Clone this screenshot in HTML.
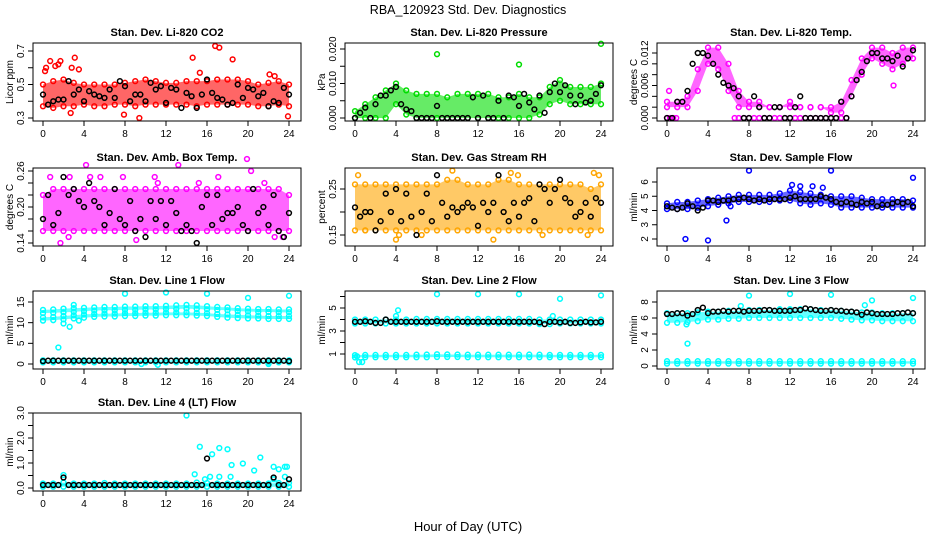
<!DOCTYPE html>
<html><head><meta charset="utf-8"><style>
body{margin:0;background:#fff}
svg{display:block;font-family:"Liberation Sans",Arial,sans-serif}
</style></head><body>
<svg id="chart" width="936" height="540" viewBox="0 0 936 540">
<text x="468" y="14" text-anchor="middle" font-size="12.5">RBA_120923  Std. Dev. Diagnostics</text>
<text x="468" y="531" text-anchor="middle" font-size="13">Hour of Day (UTC)</text>
</svg>
<script>
const hourly=[0,1,2,3,4,5,6,7,8,9,10,11,12,13,14,15,16,17,18,19,20,21,22,23,24];
const halfHours=[0,0.5,1,1.5,2,2.5,3,3.5,4,4.5,5,5.5,6,6.5,7,7.5,8,8.5,9,9.5,10,10.5,11,11.5,12,12.5,13,13.5,14,14.5,15,15.5,16,16.5,17,17.5,18,18.5,19,19.5,20,20.5,21,21.5,22,22.5,23,23.5,24];
const xTickLabels=["0","4","8","12","16","20","24"];

// Panel 1 CO2
const co2Mean=[0.44,0.38,0.40,0.41,0.41,0.52,0.44,0.47,0.40,0.46,0.44,0.43,0.42,0.47,0.42,0.52,0.49,0.40,0.44,0.44,0.40,0.51,0.47,0.49,0.39,0.48,0.47,0.36,0.45,0.43,0.36,0.44,0.53,0.45,0.42,0.41,0.38,0.39,0.50,0.42,0.48,0.47,0.43,0.45,0.37,0.40,0.39,0.48,0.44];
const co2Lo=[0.37,0.36,0.37,0.37,0.38,0.37,0.37,0.38,0.38,0.37,0.38,0.38,0.38,0.38,0.38,0.37,0.38,0.38,0.38,0.38,0.38,0.37,0.37,0.38,0.37];
const co2Hi=[0.50,0.52,0.53,0.51,0.50,0.50,0.50,0.50,0.51,0.52,0.53,0.52,0.51,0.51,0.52,0.52,0.52,0.53,0.53,0.53,0.52,0.50,0.51,0.52,0.50];
const co2OutX=[0.2,0.3,0.7,1.2,1.5,1.7,2.8,3.1,3.5,14.6,15.3,16.8,17.2,18.5,7.9,9.4,23.9,2.7,22.1,22.6];
const co2OutY=[0.58,0.60,0.64,0.61,0.62,0.64,0.60,0.66,0.59,0.66,0.57,0.73,0.72,0.65,0.32,0.30,0.31,0.33,0.56,0.55];
// Panel 2 pressure
const presMean=[0,0.0015,0.003,0,0.004,0.0065,0.0065,0.008,0.009,0.004,0.0025,0.002,0,0,0,0,0.0035,0,0,0,0,0,0,0.006,0,0.0065,0,0,0.005,0,0.0065,0.006,0.0035,0.007,0.0045,0.0025,0.0065,0.0015,0.0075,0.010,0.0075,0.0095,0.0065,0.004,0.0065,0.0045,0.005,0.007,0.0095];
const presLo=[0,0,0,0,0.004,0.001,0,0,0,0,0,0,0,0,0,0,0,0,0.001,0.004,0.005,0.004,0.004,0.004,0.004];
const presHi=[0.002,0.004,0.006,0.008,0.010,0.008,0.007,0.007,0.007,0.006,0.007,0.007,0.007,0.007,0.006,0.006,0.007,0.006,0.006,0.009,0.011,0.009,0.009,0.009,0.010];
const presOutX=[8,16,24];
const presOutY=[0.0185,0.0155,0.0215];
// Panel 3 Li-820 temp
const tempMean=[0,0,0.003,0.003,0.005,0.010,0.012,0.012,0.0115,0.010,0.008,0.0065,0.006,0.0055,0.004,0,0,0.004,0.002,0,0,0.002,0.002,0,0,0.002,0.004,0,0,0,0,0,0,0,0.003,0,0.004,0.007,0.0085,0.0105,0.012,0.012,0.011,0.011,0.0105,0.0115,0.0095,0.011,0.0125];
const tempLo=[0.002,0.002,0.002,0.005,0.010,0.009,0.005,0.002,0.002,0.002,0.002,0.002,0.002,0.002,0.002,0.002,0.001,0.001,0.004,0.008,0.011,0.010,0.009,0.010,0.011];
const tempHi=[0.003,0.003,0.004,0.009,0.013,0.013,0.010,0.005,0.003,0.003,0.002,0.002,0.003,0.002,0.002,0.002,0.002,0.003,0.007,0.011,0.013,0.013,0.012,0.013,0.013];
const tempOutX=[0,0.3,0.6,0.9,6.6,7,7.5,8,8.5,9,9.5,10,10.5,11,11.5,12,12.5,13,13.5,14,14.5,15,15.5,16,16.5,17,17.5,0.2,22.1];
const tempOutY=[0,0,0,0,0,0,0,0,0,0,0,0,0,0,0,0,0,0,0,0,0,0,0,0,0,0,0,0.005,0.006];
// Panel 4 amb box temp
const ambMean=[0.18,0.22,0.17,0.19,0.25,0.22,0.23,0.21,0.20,0.24,0.21,0.20,0.17,0.19,0.23,0.18,0.17,0.21,0.16,0.18,0.15,0.21,0.18,0.21,0.17,0.21,0.19,0.16,0.17,0.16,0.14,0.20,0.22,0.17,0.22,0.18,0.19,0.19,0.20,0.17,0.16,0.23,0.19,0.20,0.17,0.22,0.16,0.15,0.19];
const ambLo=[0.16,0.16,0.16,0.16,0.16,0.16,0.16,0.16,0.16,0.16,0.16,0.16,0.16,0.16,0.16,0.16,0.16,0.16,0.16,0.16,0.16,0.16,0.16,0.16,0.16];
const ambHi=[0.22,0.23,0.23,0.23,0.23,0.23,0.23,0.23,0.23,0.23,0.23,0.23,0.23,0.23,0.23,0.23,0.23,0.23,0.23,0.23,0.23,0.23,0.23,0.23,0.22];
const ambOutX=[0.7,1.7,2.6,4.2,4.6,7.8,9.1,11.2,13.2,15.2,17.1,19.9,20.3,21.6,22.6,23.4,2.5,5.6,10.9];
const ambOutY=[0.25,0.14,0.25,0.27,0.25,0.25,0.145,0.24,0.27,0.24,0.25,0.28,0.26,0.24,0.15,0.15,0.15,0.25,0.25];
// Panel 5 gas stream RH
const rhMean=[0.21,0.19,0.20,0.20,0.16,0.18,0.24,0.20,0.25,0.18,0.24,0.19,0.15,0.20,0.24,0.18,0.28,0.22,0.19,0.21,0.20,0.21,0.22,0.21,0.17,0.22,0.20,0.22,0.28,0.20,0.18,0.22,0.19,0.22,0.23,0.18,0.26,0.25,0.22,0.25,0.27,0.23,0.22,0.19,0.20,0.22,0.19,0.23,0.22];
const rhLo=[0.16,0.16,0.16,0.16,0.16,0.16,0.16,0.16,0.16,0.16,0.16,0.16,0.16,0.16,0.16,0.16,0.16,0.16,0.16,0.16,0.16,0.16,0.16,0.16,0.16];
const rhHi=[0.26,0.26,0.26,0.26,0.26,0.26,0.26,0.26,0.26,0.27,0.27,0.26,0.26,0.26,0.27,0.27,0.26,0.26,0.26,0.26,0.26,0.26,0.26,0.25,0.26];
const rhOutX=[0.3,1,4,4.3,6.5,9.5,13.5,15.2,15.9,18.3,23.3,23.8,22.7];
const rhOutY=[0.28,0.16,0.14,0.15,0.15,0.29,0.14,0.285,0.28,0.15,0.285,0.28,0.15];
// Panel 6 sample flow
const flowMean=[4.3,4.2,4.1,4.2,4.5,4.3,4.0,4.2,4.7,4.7,4.6,4.7,4.7,4.8,4.8,4.9,4.8,4.7,4.8,4.7,4.8,4.8,4.8,4.8,4.9,5.0,4.8,4.8,4.8,4.8,5.0,4.9,4.8,4.6,4.5,4.6,4.5,4.4,4.6,4.5,4.6,4.3,4.4,4.4,4.5,4.6,4.5,4.6,4.3];
const flowLo=[4.1,4.1,4.1,4.2,4.3,4.4,4.5,4.6,4.6,4.6,4.6,4.7,4.7,4.5,4.4,4.5,4.4,4.2,4.2,4.2,4.2,4.2,4.2,4.2,4.2];
const flowHi=[4.5,4.6,4.6,4.7,4.8,4.9,5.0,5.1,5.1,5.1,5.1,5.2,5.4,5.3,5.2,5.1,5.0,5.0,5.0,4.9,4.8,4.8,4.8,4.8,4.7];
const flowOutX=[1.8,4,5.8,6.2,8,16,24,12.2,13,14.2,15.2];
const flowOutY=[2.0,1.9,3.3,4.3,6.8,6.8,6.3,5.8,5.7,5.7,5.6];
// Panel 7 line 1
const l1Mean=[0.7,0.8,0.8,0.8,0.8,0.8,0.8,0.8,0.8,0.8,0.8,0.8,0.8,0.8,0.8,0.8,0.8,0.8,0.8,0.8,0.8,0.8,0.8,0.8,0.8,0.8,0.8,0.8,0.8,0.8,0.8,0.8,0.8,0.8,0.8,0.8,0.8,0.8,0.8,0.8,0.8,0.8,0.8,0.8,0.8,0.8,0.8,0.8,0.7];
const l1UpLo=[12.3,12.4,12.5,12.6,12.8,12.9,13.0,13.0,13.1,13.1,13.2,13.2,13.3,13.3,13.4,13.3,13.2,13.1,13.0,12.8,12.7,12.6,12.6,12.5,12.5];
const l1UpHi=[13.1,13.2,13.4,13.5,13.6,13.7,13.8,13.8,13.9,13.9,14.0,14.0,14.1,14.2,14.3,14.2,14.0,13.8,13.7,13.5,13.4,13.3,13.3,13.2,13.2];
const l1MidLo=[10.5,10.6,10.8,11.0,11.2,11.4,11.5,11.5,11.6,11.6,11.7,11.7,11.8,11.8,11.8,11.7,11.6,11.4,11.2,11.1,11.0,11.0,10.9,10.9,10.9];
const l1MidHi=[11.3,11.4,11.6,11.8,12.0,12.1,12.2,12.2,12.3,12.3,12.4,12.4,12.5,12.5,12.5,12.4,12.3,12.1,12.0,11.9,11.8,11.7,11.6,11.6,11.6];
const l1LowLo=[0.4,0.4,0.4,0.4,0.4,0.4,0.4,0.4,0.4,0.4,0.4,0.4,0.4,0.4,0.4,0.4,0.4,0.4,0.4,0.4,0.4,0.4,0.4,0.4,0.4];
const l1LowHi=[0.9,0.9,0.9,0.9,0.9,0.9,0.9,0.9,0.9,0.9,0.9,0.9,0.9,0.9,0.9,0.9,0.9,0.9,0.9,0.9,0.9,0.9,0.9,0.9,0.9];
const l1OutX=[8,12,16,20,24,1.5,2,2.6,3,3.5,9.6,11.2,22.0];
const l1OutY=[17,17.3,17,16,16.5,4,9.8,9,14.3,10.5,0,-0.2,0];
// Panel 8 line 2
const l2Mean=[3.8,3.8,3.85,3.8,3.7,3.7,4.0,3.8,3.8,3.8,3.8,3.8,3.8,3.8,3.8,3.8,3.85,3.8,3.8,3.8,3.8,3.8,3.8,3.8,3.8,3.8,3.8,3.8,3.8,3.8,3.8,3.8,3.8,3.8,3.8,3.8,3.75,3.6,3.8,3.8,3.75,3.8,3.7,3.7,3.75,3.8,3.75,3.75,3.8];
const l2UpLo=[3.65,3.65,3.65,3.65,3.65,3.65,3.65,3.65,3.65,3.65,3.65,3.65,3.65,3.65,3.65,3.65,3.65,3.65,3.6,3.6,3.65,3.65,3.65,3.65,3.65];
const l2UpHi=[4.0,4.0,4.0,4.0,4.0,4.0,4.05,4.05,4.05,4.05,4.05,4.05,4.05,4.05,4.05,4.05,4.05,4.05,4.0,4.0,4.0,4.0,4.0,4.0,4.0];
const l2LowLo=[0.7,0.72,0.72,0.72,0.72,0.72,0.72,0.72,0.74,0.74,0.74,0.72,0.72,0.72,0.72,0.72,0.72,0.72,0.72,0.72,0.72,0.72,0.72,0.72,0.72];
const l2LowHi=[0.9,0.92,0.92,0.92,0.92,0.92,0.94,0.95,0.98,0.96,0.95,0.94,0.94,0.94,0.94,0.94,0.94,0.95,0.94,0.92,0.92,0.92,0.92,0.92,0.92];
const l2OutX=[8,12,16,20,24,4,4.2,0.2,0.4,19.3,0.7];
const l2OutY=[6.2,6.2,6.2,5.8,6.1,4.3,4.8,0.8,0.3,4.3,0.3];
// Panel 9 line 3
const l3Mean=[6.5,6.5,6.6,6.6,6.3,6.5,7.0,7.3,6.6,6.8,6.8,6.9,6.8,6.9,6.9,6.8,6.9,6.9,6.9,7.0,7.0,6.9,6.9,6.9,6.9,7.0,7.0,7.2,7.1,7.0,6.9,6.9,7.0,6.9,6.9,6.8,6.8,6.7,6.4,6.7,6.6,6.5,6.5,6.5,6.5,6.6,6.6,6.7,6.6];
const l3UpLo=[5.4,5.4,5.5,5.6,5.8,5.8,5.9,5.9,6.0,6.0,6.0,6.0,6.0,6.0,6.0,6.0,6.0,5.9,5.8,5.7,5.7,5.6,5.6,5.6,5.6];
const l3UpHi=[6.6,6.6,6.6,6.7,6.8,6.8,6.9,6.9,7.0,7.0,7.0,7.1,7.1,7.1,7.1,7.0,7.0,6.9,6.8,6.7,6.7,6.6,6.6,6.6,6.6];
const l3LowLo=[0.3,0.3,0.3,0.3,0.3,0.3,0.3,0.3,0.3,0.3,0.3,0.3,0.3,0.3,0.3,0.3,0.3,0.3,0.3,0.3,0.3,0.3,0.3,0.3,0.3];
const l3LowHi=[0.6,0.6,0.6,0.6,0.6,0.6,0.6,0.6,0.6,0.6,0.6,0.6,0.6,0.6,0.6,0.6,0.6,0.6,0.6,0.6,0.6,0.6,0.6,0.6,0.6];
const l3OutX=[2,8,12,16,20,24,19.3,1.9,7.2];
const l3OutY=[2.8,8.8,9,8.9,8.2,8.5,7.6,5.2,7.5];
// Panel 10 line 4
const l4Mean=[0.12,0.12,0.12,0.12,0.42,0.12,0.12,0.12,0.12,0.12,0.12,0.12,0.12,0.12,0.12,0.12,0.12,0.12,0.12,0.12,0.12,0.12,0.12,0.12,0.12,0.12,0.12,0.12,0.12,0.12,0.12,0.12,1.18,0.12,0.12,0.12,0.12,0.12,0.12,0.12,0.12,0.12,0.12,0.12,0.12,0.42,0.12,0.12,0.35];
const l4Lo=[0.05,0.05,0.05,0.05,0.05,0.05,0.05,0.05,0.05,0.05,0.05,0.05,0.05,0.05,0.05,0.05,0.05,0.05,0.05,0.05,0.05,0.05,0.05,0.05,0.05];
const l4Hi=[0.18,0.18,0.22,0.18,0.18,0.18,0.2,0.18,0.18,0.18,0.18,0.18,0.18,0.18,0.18,0.22,0.2,0.18,0.18,0.18,0.18,0.18,0.18,0.2,0.2];
const l4OutX=[2,14,14.8,15.3,15.8,16.3,16.5,17.2,17.2,18,18.3,18.4,19.5,20.6,21.2,22.5,22.5,23,23.6,23.6,23.8];
const l4OutY=[0.52,2.9,0.55,1.65,0.35,0.45,1.35,1.6,0.45,1.55,0.45,0.92,0.98,0.7,1.22,0.35,0.85,0.75,0.45,0.85,0.85];

const svg=document.getElementById('chart');
const NS='http://www.w3.org/2000/svg';
function mk(tag,attrs,parent){const e=document.createElementNS(NS,tag);for(const k in attrs)e.setAttribute(k,attrs[k]);parent.appendChild(e);return e;}

const panels=[
 {id:'co2',title:'Stan. Dev. Li-820 CO2',ylab:'Licor ppm',col:0,row:0,v1:0.7,p1:8,v2:0.3,p2:75,ticks:[0.3,0.4,0.5,0.6,0.7],labels:[[0.3,'0.3'],[0.5,'0.5'],[0.7,'0.7']],color:'#ff0000',mean:co2Mean,bands:[[co2Lo,co2Hi]],ox:co2OutX,oy:co2OutY},
 {id:'pressure',title:'Stan. Dev. Li-820 Pressure',ylab:'kPa',col:1,row:0,v1:0.02,p1:6,v2:0,p2:75,ticks:[0,0.005,0.01,0.015,0.02],labels:[[0,'0.000'],[0.01,'0.010'],[0.02,'0.020']],color:'#00dd00',mean:presMean,bands:[[presLo,presHi]],ox:presOutX,oy:presOutY},
 {id:'li820-temp',title:'Stan. Dev. Li-820 Temp.',ylab:'degrees C',col:2,row:0,v1:0.012,p1:10,v2:0,p2:75,ticks:[0,0.002,0.004,0.006,0.008,0.01,0.012],labels:[[0,'0.000'],[0.006,'0.006'],[0.012,'0.012']],color:'#ff00ff',mean:tempMean,bands:[[tempLo,tempHi]],ox:tempOutX,oy:tempOutY},
 {id:'amb-box-temp',title:'Stan. Dev. Amb. Box Temp.',ylab:'degrees C',col:0,row:1,v1:0.26,p1:3,v2:0.14,p2:75,ticks:[0.14,0.16,0.18,0.2,0.22,0.24,0.26],labels:[[0.14,'0.14'],[0.2,'0.20'],[0.26,'0.26']],color:'#ff00ff',mean:ambMean,bands:[[ambLo,ambHi]],ox:ambOutX,oy:ambOutY},
 {id:'gas-rh',title:'Stan. Dev. Gas Stream RH',ylab:'percent',col:1,row:1,v1:0.25,p1:21,v2:0.15,p2:67,ticks:[0.15,0.2,0.25],labels:[[0.15,'0.15'],[0.25,'0.25']],color:'#ffa500',mean:rhMean,bands:[[rhLo,rhHi]],ox:rhOutX,oy:rhOutY},
 {id:'sample-flow',title:'Stan. Dev. Sample Flow',ylab:'ml/min',col:2,row:1,v1:6,p1:14,v2:2,p2:71,ticks:[2,3,4,5,6],labels:[[2,'2'],[3,'3'],[4,'4'],[5,'5'],[6,'6']],color:'#0000ff',mean:flowMean,bands:[[flowLo,flowHi]],ox:flowOutX,oy:flowOutY},
 {id:'line1-flow',title:'Stan. Dev. Line 1 Flow',ylab:'ml/min',col:0,row:2,v1:15,p1:11,v2:0,p2:73,ticks:[0,5,10,15],labels:[[0,'0'],[5,'5'],[10,'10'],[15,'15']],color:'#00ffff',mean:l1Mean,bands:[[l1UpLo,l1UpHi],[l1MidLo,l1MidHi],[l1LowLo,l1LowHi]],ox:l1OutX,oy:l1OutY},
 {id:'line2-flow',title:'Stan. Dev. Line 2 Flow',ylab:'ml/min',col:1,row:2,v1:5,p1:17,v2:1,p2:63,ticks:[1,2,3,4,5,6],labels:[[1,'1'],[3,'3'],[5,'5']],color:'#00ffff',mean:l2Mean,bands:[[l2UpLo,l2UpHi],[l2LowLo,l2LowHi]],ox:l2OutX,oy:l2OutY},
 {id:'line3-flow',title:'Stan. Dev. Line 3 Flow',ylab:'ml/min',col:2,row:2,v1:8,p1:11,v2:0,p2:75,ticks:[0,2,4,6,8],labels:[[0,'0'],[2,'2'],[4,'4'],[6,'6'],[8,'8']],color:'#00ffff',mean:l3Mean,bands:[[l3UpLo,l3UpHi],[l3LowLo,l3LowHi]],ox:l3OutX,oy:l3OutY},
 {id:'line4-flow',title:'Stan. Dev. Line 4 (LT) Flow',ylab:'ml/min',col:0,row:3,v1:3,p1:0,v2:0,p2:75,ticks:[0,0.5,1,1.5,2,2.5,3],labels:[[0,'0.0'],[1,'1.0'],[2,'2.0'],[3,'3.0']],color:'#00ffff',mean:l4Mean,bands:[[l4Lo,l4Hi]],ox:l4OutX,oy:l4OutY}
];
const rowTops=[43,168,291,413];

panels.forEach(p=>{
  const left=33+312*p.col, top=rowTops[p.row], W=268, H=78;
  const xs=h=>left+10+h*10.25;
  const ys=v=>top+p.p1+(v-p.v1)*(p.p2-p.p1)/(p.v2-p.v1);
  const g=mk('g',{},svg);
  
  
  const t=mk('text',{x:left+W/2,y:top-7,'text-anchor':'middle','font-size':'11','font-weight':'bold'},g);
  t.textContent=p.title;
  
  
  p.bands.forEach((b,bi)=>{
    const lo=b[0],hi=b[1];
    let d='';
    hourly.forEach((h,i)=>{d+=(i?'L':'M')+xs(h)+','+ys(hi[i]);});
    for(let i=hourly.length-1;i>=0;i--)d+='L'+xs(hourly[i])+','+ys(lo[i]);
    const band=mk('path',{d:d+'Z',fill:p.color,'fill-opacity':'0.6'},g);
    
    
    hourly.forEach((h,i)=>{
      [lo[i],hi[i]].forEach(v=>{
        const c=mk('circle',{cx:xs(h),cy:ys(v),r:2.4,fill:'none',stroke:p.color,'stroke-width':1.5},g);
        
        
      });
    });
  });
  p.ox.forEach((h,i)=>{
    const c=mk('circle',{cx:xs(h),cy:ys(p.oy[i]),r:2.4,fill:'none',stroke:p.color,'stroke-width':1.5},g);
    
    
  });
  halfHours.forEach((h,i)=>{
    const c=mk('circle',{cx:xs(h),cy:ys(p.mean[i]),r:2.4,fill:'none',stroke:'#000','stroke-width':1.5},g);
    
    
  });
  const box=mk('rect',{x:left,y:top,width:W,height:H,fill:'none',stroke:'#000','stroke-width':1},g);
  
  
  xTickLabels.forEach(lab=>{
    const h=+lab, x=xs(h);
    mk('line',{x1:x,x2:x,y1:top+H,y2:top+H+5,stroke:'#000'},g);
    const tx=mk('text',{x:x,y:top+H+16,'text-anchor':'middle','font-size':'10'},g);
    tx.textContent=lab;
    
    
  });
  mk('line',{x1:xs(0),x2:xs(24),y1:top+H,y2:top+H,stroke:'#000'},g);
  p.ticks.forEach(v=>{mk('line',{x1:left-5,x2:left,y1:ys(v),y2:ys(v),stroke:'#000'},g);});
  mk('line',{x1:left,x2:left,y1:ys(p.ticks[0]),y2:ys(p.ticks[p.ticks.length-1]),stroke:'#000'},g);
  p.labels.forEach(l=>{
    const y=ys(l[0]);
    const tx=mk('text',{x:left-9,y:y,'text-anchor':'middle','font-size':'10',transform:'rotate(-90 '+(left-9)+' '+y+')'},g);
    tx.textContent=l[1];
    
    
  });
  const yl=mk('text',{x:left-20,y:top+H/2,'text-anchor':'middle','font-size':'10',transform:'rotate(-90 '+(left-20)+' '+(top+H/2)+')'},g);
  yl.textContent=p.ylab;
  
  
});
</script>
</body></html>
